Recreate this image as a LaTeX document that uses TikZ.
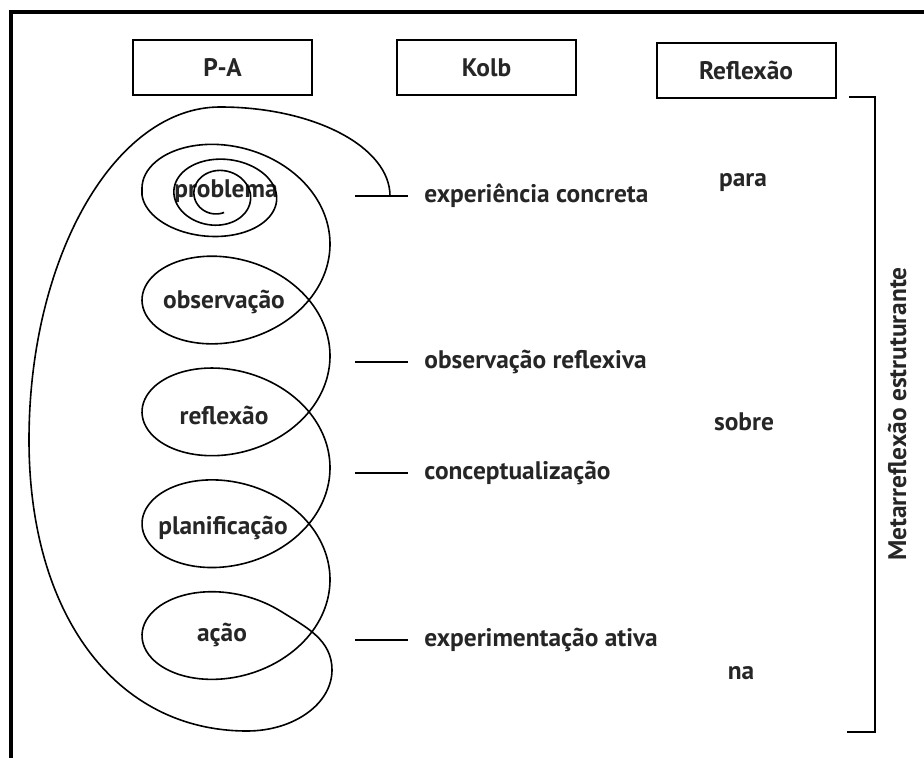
\documentclass[tikz,border=0pt]{standalone}
\usepackage{fontspec}
\setmainfont{PT Sans}
\usetikzlibrary{positioning}

\begin{document}
\begin{tikzpicture}[
		x=0.5pt, y=-0.5pt,
		every node/.style={font=\fontsize{12.7}{15}\selectfont\bfseries, text=black!85},
		headbox/.style={draw=black, line width=1pt, minimum width=89.5pt, minimum height=27.5pt},
		kolbitem/.style={anchor=west, inner xsep=8pt},
		kolbline/.style={line width=0.9pt},
		coil/.style={line width=0.8pt, line join=round}
	]
	\useasboundingbox (0, 0) rectangle (924, 758);

	% frame
	\draw[line width=2.2pt] (11, 758) -- (11, 12) -- (924, 12);

	\node[headbox] (pa) at (222.5, 67.5) {P-A};
	\node[headbox] (kolb) at (486.5, 67.5) {Kolb};
	\node[headbox] (refl) at (746, 70.5) {Reflexão};

	\node (problema) at (226, 191) {problema};
	\node (observacao) at (224, 302) {observação};
	\node (reflexao) at (224, 415) {reflexão};
	\node (planificacao) at (223, 528) {planificação};
	\node (acao) at (222, 635) {ação};

	% spiral, then the coil, then the big loop back to the top
	\draw[coil]
		plot[variable=\t, domain=-17.58:-3.1416, samples=220, smooth]
			({218+(76-6.06*(-pi-(\t))+0.153*(-pi-(\t))^2)*cos(\t r)},
			 {195+(44.3-1.8*(-pi-(\t)))*sin(\t r)})
		-- plot[variable=\t, domain=-3.1416:24.062, samples=400, smooth]
			({236+94*cos(\t r)}, {244.1+69.5*sin(\t r)+17.8*(\t)})
		.. controls (306.5, 627.3) and (332, 640) .. (332, 670)
		.. controls (332, 703.7) and (294, 731) .. (247, 731)
		.. controls (116, 731) and (29, 615) .. (29, 440)
		.. controls (29, 257) and (115, 107) .. (220, 107)
		.. controls (314, 107) and (390, 147) .. (390, 196);

	\coordinate (k1) at (355, 196);
	\coordinate (k2) at (355, 362);
	\coordinate (k3) at (355, 473);
	\coordinate (k4) at (355, 640);
	\node[kolbitem] (expconc) at (408, 196) {experiência concreta};
	\node[kolbitem] (obsrefl) at (408, 362) {observação reflexiva};
	\node[kolbitem] (concept) at (408, 473) {conceptualização};
	\node[kolbitem] (expativ) at (408, 640) {experimentação ativa};
	\draw[kolbline] (k1) -- (expconc);
	\draw[kolbline] (k2) -- (obsrefl);
	\draw[kolbline] (k3) -- (concept);
	\draw[kolbline] (k4) -- (expativ);

	\node (para) at (743, 183) {para};
	\node (sobre) at (744, 422) {sobre};
	\node (na) at (741, 673) {na};

	\draw[line width=1pt] (849, 97) -- (875, 97) -- (875, 732) -- (847, 732);
	\node[rotate=90] (meta) at (897, 414) {Metarreflexão estruturante};
\end{tikzpicture}
\end{document}
